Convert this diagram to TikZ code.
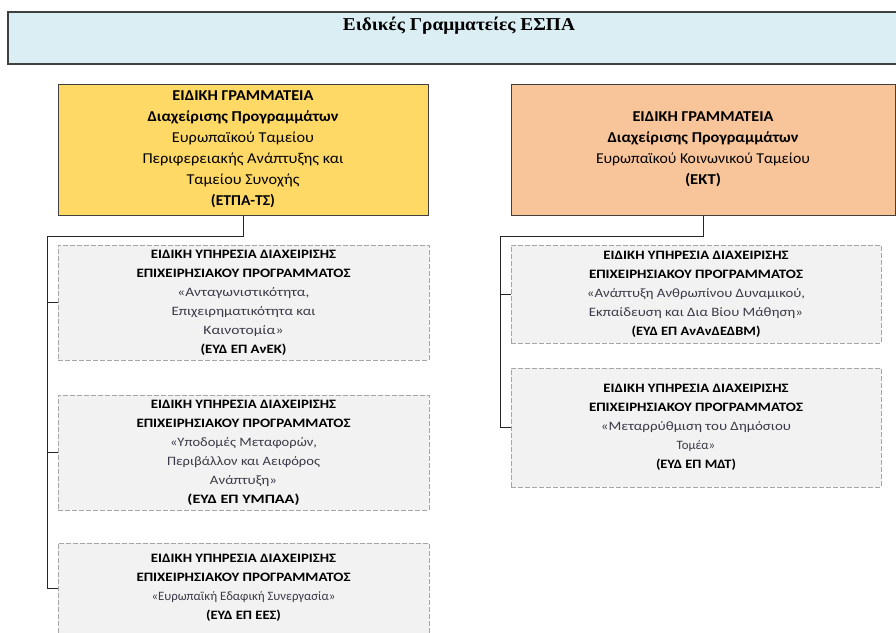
\documentclass[tikz,border=0pt]{standalone}
\usepackage{graphicx}
\usepackage{fontspec}
\setmainfont{Carlito}
\newfontfamily\titlefont{Liberation Serif}
\newlength\pxu
\setlength\pxu{0.75pt}
\newcommand{\fitw}[2]{\resizebox{#1\pxu}{\height}{#2}}
\definecolor{titlefill}{HTML}{DAEEF3}
\definecolor{yellowfill}{HTML}{FFD966}
\definecolor{orangefill}{HTML}{F8C49A}
\definecolor{subfill}{HTML}{F2F2F2}
\definecolor{subline}{HTML}{A6A6A6}
\definecolor{boxline}{HTML}{404040}
\definecolor{subtext}{HTML}{3A3A48}
\tikzset{
  titlebox/.style={draw=boxline, fill=titlefill, line width=0.9pt, inner sep=0pt},
  mainbox/.style={draw=boxline, line width=0.75pt, align=center, inner sep=0pt,
    font=\fontsize{11.3}{15.75}\selectfont},
  subbox/.style={draw=subline, fill=subfill, dash pattern=on 3.75pt off 1.5pt,
    line width=0.75pt, align=center, inner sep=0pt,
    font=\fontsize{9.6}{14.25}\selectfont},
  link/.style={draw=black!85, line width=0.75pt}
}
\newcommand{\hb}[2]{\fitw{#1}{\bfseries #2}}
\newcommand{\rg}[2]{\fitw{#1}{\color{subtext}#2}}
\begin{document}
\begin{tikzpicture}[x=0.75pt,y=-0.75pt]
\useasboundingbox (0,0) rectangle (896,632);
% title
\node[titlebox, minimum width=673.5pt, minimum height=39pt] (title) at (457,38) {};
\node[font=\titlefont\bfseries\fontsize{13.6}{16}\selectfont, inner sep=0pt] (titletext) at (459,26)
 {\fitw{232}{Ειδικές Γραμματείες ΕΣΠΑ}};
% main boxes
\node[mainbox, fill=yellowfill, minimum width=277.5pt, minimum height=98.25pt] (erdf) at (243,149.5)
 {\hb{141}{ΕΙΔΙΚΗ ΓΡΑΜΜΑΤΕΙΑ}\\ \hb{191}{Διαχείρισης Προγραμμάτων}\\ \fitw{142}{Ευρωπαϊκού Ταμείου}\\
  \fitw{201}{Περιφερειακής Ανάπτυξης και}\\ \fitw{113}{Ταμείου Συνοχής}\\ \hb{64}{(ΕΤΠΑ-ΤΣ)}};
\node[mainbox, fill=orangefill, minimum width=288pt, minimum height=98.25pt] (esf) at (703,149.5)
 {\hb{141}{ΕΙΔΙΚΗ ΓΡΑΜΜΑΤΕΙΑ}\\ \hb{191}{Διαχείρισης Προγραμμάτων}\\ \fitw{214}{Ευρωπαϊκού Κοινωνικού Ταμείου}\\ \hb{36}{(ΕΚΤ)}};
% sub boxes left
\node[subbox, minimum width=278.25pt, minimum height=86.25pt] (anek) at (243.5,302.5)
 {\hb{185}{ΕΙΔΙΚΗ ΥΠΗΡΕΣΙΑ ΔΙΑΧΕΙΡΙΣΗΣ}\\ \hb{214}{ΕΠΙΧΕΙΡΗΣΙΑΚΟΥ ΠΡΟΓΡΑΜΜΑΤΟΣ}\\ \rg{132}{«Ανταγωνιστικότητα,}\\
  \rg{144}{Επιχειρηματικότητα και}\\ \rg{80}{Καινοτομία»}\\ \hb{86}{(ΕΥΔ ΕΠ ΑνΕΚ)}};
\node[subbox, minimum width=278.25pt, minimum height=86.25pt] (ymepaa) at (243.5,452.5)
 {\hb{185}{ΕΙΔΙΚΗ ΥΠΗΡΕΣΙΑ ΔΙΑΧΕΙΡΙΣΗΣ}\\ \hb{214}{ΕΠΙΧΕΙΡΗΣΙΑΚΟΥ ΠΡΟΓΡΑΜΜΑΤΟΣ}\\ \rg{147}{«Υποδομές Μεταφορών,}\\
  \rg{153}{Περιβάλλον και Αειφόρος}\\ \rg{67}{Ανάπτυξη»}\\ \hb{112}{(ΕΥΔ ΕΠ ΥΜΠΑΑ)}};
\node[subbox, minimum width=278.25pt, minimum height=67.5pt] (ees) at (243.5,588)
 {\hb{185}{ΕΙΔΙΚΗ ΥΠΗΡΕΣΙΑ ΔΙΑΧΕΙΡΙΣΗΣ}\\ \hb{214}{ΕΠΙΧΕΙΡΗΣΙΑΚΟΥ ΠΡΟΓΡΑΜΜΑΤΟΣ}\\
  {\color{subtext}«Ευρωπαϊκή Εδαφική Συνεργασία»}\\ \hb{75}{(ΕΥΔ ΕΠ ΕΕΣ)}};
% sub boxes right
\node[subbox, minimum width=277.5pt, minimum height=73.5pt] (anan) at (696,294)
 {\hb{185}{ΕΙΔΙΚΗ ΥΠΗΡΕΣΙΑ ΔΙΑΧΕΙΡΙΣΗΣ}\\ \hb{214}{ΕΠΙΧΕΙΡΗΣΙΑΚΟΥ ΠΡΟΓΡΑΜΜΑΤΟΣ}\\ \rg{218}{«Ανάπτυξη Ανθρωπίνου Δυναμικού,}\\
  \rg{214}{Εκπαίδευση και Δια Βίου Μάθηση»}\\ \hb{129}{(ΕΥΔ ΕΠ ΑνΑνΔΕΔΒΜ)}};
\node[subbox, minimum width=277.5pt, minimum height=89.25pt] (mdt) at (696,427.5)
 {\hb{185}{ΕΙΔΙΚΗ ΥΠΗΡΕΣΙΑ ΔΙΑΧΕΙΡΙΣΗΣ}\\ \hb{214}{ΕΠΙΧΕΙΡΗΣΙΑΚΟΥ ΠΡΟΓΡΑΜΜΑΤΟΣ}\\ \rg{190}{«Μεταρρύθμιση του Δημόσιου}\\
  {\color{subtext}Τομέα»}\\ \hb{80}{(ΕΥΔ ΕΠ ΜΔΤ)}};
% connectors
\coordinate (lbus) at (47,236);
\coordinate (rbus) at (500,236);
\draw[link] (erdf.south) |- (lbus) |- (ees.west);
\draw[link] (lbus) |- (anek.west);
\draw[link] (lbus) |- (ymepaa.west);
\draw[link] (esf.south) |- (rbus) |- (mdt.west);
\draw[link] (rbus) |- (anan.west);
\end{tikzpicture}
\end{document}
